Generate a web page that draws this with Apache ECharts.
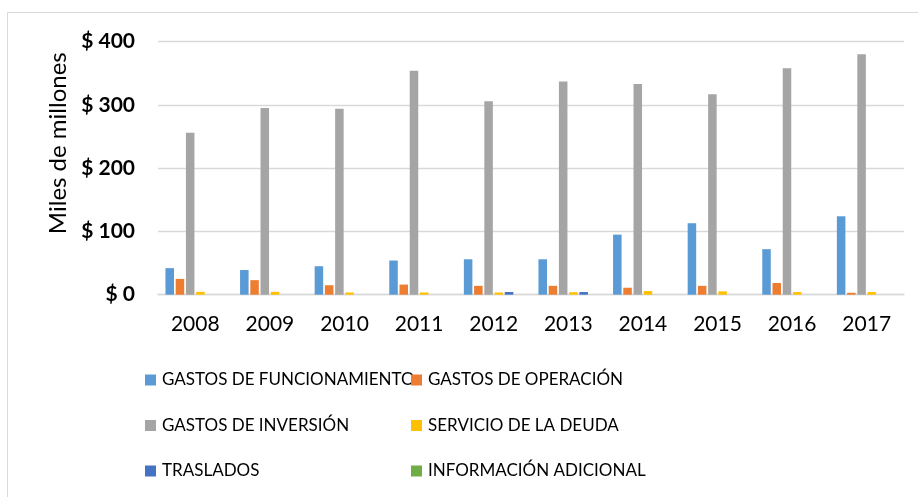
<!DOCTYPE html>
<html>
<head>
<meta charset="utf-8">
<script src="https://cdn.jsdelivr.net/npm/echarts@6/dist/echarts.min.js"></script>
<style>
  html, body { margin: 0; padding: 0; background: #fff; }
  #chart { width: 918px; height: 497px; }
</style>
</head>
<body>
<div id="chart"></div>
<script>
// Miles de millones de pesos
var years = ["2008", "2009", "2010", "2011", "2012", "2013", "2014", "2015", "2016", "2017"];
var funcionamiento = [42, 39, 45, 54, 56, 56, 95, 113, 72, 124];
var operacion = [25, 23, 15, 16, 14, 14, 11, 14, 18.5, 3];
var inversion = [256, 295, 294, 354, 306, 337, 333, 317, 358, 380];
var deuda = [4.5, 4.5, 3.5, 3.5, 3.5, 4, 5.8, 5.3, 4.2, 4.2];
var traslados = [0, 0, 0, 0, 4.3, 4.2, 0, 0, 0, 0];
var adicional = [0, 0, 0, 0, 0, 0, 0, 0, 0, 0];
var yTicks = [0, 100, 200, 300, 400];

var names = ["GASTOS DE FUNCIONAMIENTO", "GASTOS DE OPERACIÓN", "GASTOS DE INVERSIÓN",
  "SERVICIO DE LA DEUDA", "TRASLADOS", "INFORMACIÓN ADICIONAL"];
var colors = ["#5B9BD5", "#ED7D31", "#A5A5A5", "#FFC000", "#4472C4", "#70AD47"];
var values = [funcionamiento, operacion, inversion, deuda, traslados, adicional];

var font = "Lato";
var chart = echarts.init(document.getElementById("chart"));

var legendBase = {
  orient: "vertical",
  top: 365,
  itemWidth: 11,
  itemHeight: 11,
  itemGap: 25.5,
  icon: "rect",
  selectedMode: false,
  textStyle: { fontFamily: font, fontSize: 17, lineHeight: 20, color: "#000", padding: [0, 0, 0, 1] }
};

chart.setOption({
  animation: false,
  color: colors,
  graphic: [{
    type: "rect",
    shape: { x: 7.5, y: 12.5, width: 1000, height: 1000 },
    style: { fill: null, stroke: "#d9d9d9", lineWidth: 1 },
    silent: true
  }],
  legend: [
    Object.assign({}, legendBase, { left: 140, data: [names[0], names[2], names[4]] }),
    Object.assign({}, legendBase, { left: 406, data: [names[1], names[3], names[5]] })
  ],
  grid: { left: 158, right: 14, top: 41.7, bottom: 202.3, containLabel: false },
  xAxis: {
    type: "category",
    data: years,
    axisLine: { show: true, lineStyle: { color: "#d9d9d9", width: 1.3 } },
    axisTick: { show: false },
    axisLabel: { fontFamily: font, fontSize: 21, color: "#000", margin: 19 }
  },
  yAxis: {
    type: "value",
    min: yTicks[0],
    max: yTicks[yTicks.length - 1],
    interval: 100,
    name: "Miles de millones",
    nameLocation: "middle",
    nameRotate: 90,
    nameGap: 86,
    nameTextStyle: { fontFamily: font, fontSize: 24, color: "#000", padding: [0, 0, 0, 50] },
    axisLine: { show: false },
    axisTick: { show: false },
    splitLine: { lineStyle: { color: "#d9d9d9", width: 1.3 } },
    axisLabel: {
      fontFamily: font, fontSize: 21, fontWeight: "bold", color: "#000", margin: 23,
      formatter: function (v) { return "$ " + v; }
    }
  },
  series: names.map(function (n, i) {
    return {
      name: n,
      type: "bar",
      data: values[i],
      barCategoryGap: "20%",
      barGap: "20%",
      itemStyle: { color: colors[i] }
    };
  })
});
</script>
</body>
</html>
